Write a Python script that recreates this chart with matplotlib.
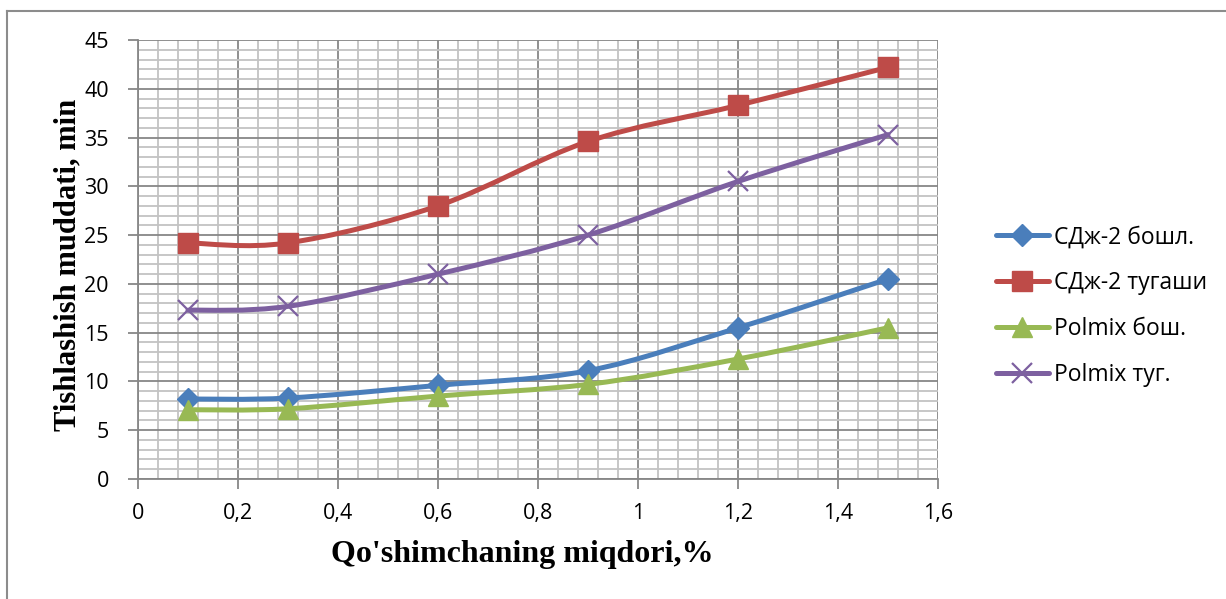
import matplotlib
matplotlib.use('Agg')
import matplotlib.pyplot as plt
import numpy as np
from matplotlib.path import Path
from matplotlib.patches import PathPatch
from matplotlib.lines import Line2D
from matplotlib.ticker import MultipleLocator, FuncFormatter

# данные
x_vals = [0.1, 0.3, 0.6, 0.9, 1.2, 1.5]
sdj_start = [8.2, 8.3, 9.6, 11.1, 15.5, 20.5]
sdj_end = [24.2, 24.2, 28.0, 34.6, 38.3, 42.2]
polmix_start = [7.1, 7.2, 8.5, 9.7, 12.3, 15.5]
polmix_end = [17.3, 17.7, 21.0, 25.0, 30.5, 35.3]

labels = ['СДж-2 бошл.', 'СДж-2 тугаши', 'Polmix бош.', 'Polmix туг.']
x_ticks = [0, 0.2, 0.4, 0.6, 0.8, 1.0, 1.2, 1.4, 1.6]
y_ticks = [0, 5, 10, 15, 20, 25, 30, 35, 40, 45]

plt.rcParams['font.family'] = ['Open Sans', 'DejaVu Sans']


def smooth_path(xs, ys):
    # сглаженная линия как в Excel (Catmull-Rom через кривые Безье)
    pts = np.column_stack([xs, ys])
    n = len(pts)
    verts = [pts[0]]
    codes = [Path.MOVETO]
    for i in range(n - 1):
        p0 = pts[i - 1] if i > 0 else pts[i]
        p1 = pts[i]
        p2 = pts[i + 1]
        p3 = pts[i + 2] if i + 2 < n else pts[i + 1]
        verts += [p1 + (p2 - p0) / 6, p2 - (p3 - p1) / 6, p2]
        codes += [Path.CURVE4] * 3
    return Path(verts, codes)


fig = plt.figure(figsize=(12.26, 5.99), dpi=100)
ax = fig.add_axes([138 / 1226, 1 - 479 / 599, 800 / 1226, 439 / 599])

series = [
    (sdj_start, '#4A7EBB', 'D', 11.5, dict()),
    (sdj_end, '#BE4B48', 's', 14, dict()),
    (polmix_start, '#98B954', '^', 14, dict()),
    (polmix_end, '#7D60A0', 'x', 14, dict(markeredgewidth=1.6)),
]

handles = []
for (ys, col, mk, ms, extra), lab in zip(series, labels):
    patch = PathPatch(smooth_path(x_vals, ys), facecolor='none', edgecolor=col,
                      lw=3.6, capstyle='round', joinstyle='round', zorder=3)
    ax.add_patch(patch)
    ax.plot(x_vals, ys, linestyle='none', marker=mk, markersize=ms, color=col,
            markeredgecolor=col, zorder=4, **extra)
    handles.append(Line2D([], [], color=col, lw=3.6, marker=mk, markersize=ms,
                          markeredgecolor=col, solid_capstyle='round', **extra))

ax.set_xlim(0, 1.6)
ax.set_ylim(0, 45)
ax.set_xticks(x_ticks)
ax.set_yticks(y_ticks)
ax.xaxis.set_minor_locator(MultipleLocator(0.04))
ax.yaxis.set_minor_locator(MultipleLocator(1))
ax.xaxis.set_major_formatter(FuncFormatter(lambda v, p: f'{v:g}'.replace('.', ',')))

ax.grid(which='major', color='#878787', lw=1.3, zorder=1)
ax.grid(which='minor', color='#C3C3C3', lw=1.3, zorder=0)
ax.set_axisbelow(True)

for s in ['top', 'right']:
    ax.spines[s].set_visible(False)
for s in ['left', 'bottom']:
    ax.spines[s].set_color('#878787')
    ax.spines[s].set_linewidth(1.3)

ax.tick_params(which='major', direction='out', length=7, width=1.3, color='#878787',
               labelsize=15.5, labelcolor='black')
ax.tick_params(axis='x', pad=10)
ax.tick_params(axis='y', pad=14)
ax.tick_params(which='minor', length=0)

ax.set_xlabel("Qo'shimchaning miqdori,%", fontsize=23, fontweight='bold',
              family='Liberation Serif', va='center')
ax.xaxis.set_label_coords(0.48, -0.173)
ax.set_ylabel('Tishlashish muddati, min', fontsize=22, fontweight='bold',
              family='Liberation Serif', va='center')
ax.yaxis.set_label_coords(-0.0875, 0.487)

fig.legend(handles=handles, labels=labels, loc='center left',
           bbox_to_anchor=(996 / 1226, 1 - 306 / 599), frameon=False, fontsize=16.5,
           handlelength=2.3, handletextpad=0.25, labelspacing=0.95, borderpad=0,
           borderaxespad=0)

# рамка диаграммы
fig.add_artist(Line2D([7 / 1226, 7 / 1226], [0, 1 - 11 / 599], color='#8C8C8C', lw=1.5))
fig.add_artist(Line2D([7 / 1226, 1], [1 - 11 / 599, 1 - 11 / 599], color='#8C8C8C', lw=1.5))

fig.savefig('out.png', dpi=100, facecolor='white')
